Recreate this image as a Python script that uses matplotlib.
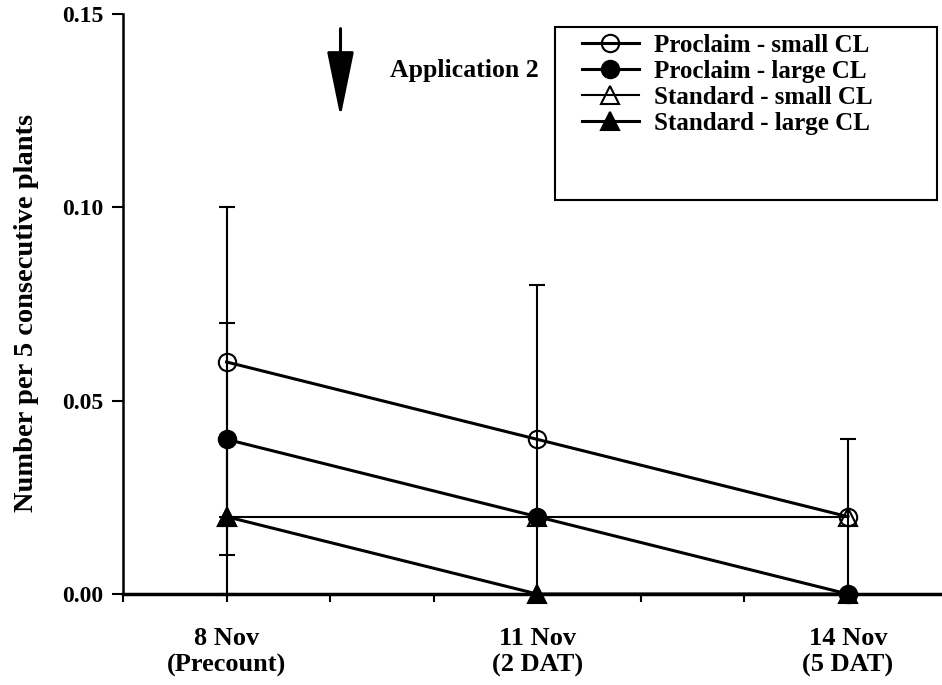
import matplotlib
matplotlib.use("Agg")
import matplotlib.pyplot as plt
from matplotlib.patches import Rectangle
from matplotlib.ticker import FixedLocator, FormatStrFormatter

plt.rcParams['font.family'] = ['Liberation Serif', 'DejaVu Serif']
plt.rcParams['font.weight'] = 'bold'

# ---- data ----
days = [8, 11, 14]
date_labels = ["8 Nov\n(Precount)", "11 Nov\n(2 DAT)", "14 Nov\n(5 DAT)"]
series_names = ["Proclaim - small CL", "Proclaim - large CL",
                "Standard - small CL", "Standard - large CL"]
proclaim_small = [0.06, 0.04, 0.02]
proclaim_small_err = [0.04, 0.04, 0.02]
proclaim_large = [0.04, 0.02, 0.00]
proclaim_large_err = [0.03, 0.0, 0.0]
standard_small = [0.02, 0.02, 0.02]
standard_small_err = [0.0, 0.0, 0.0]
standard_large = [0.02, 0.00, 0.00]
standard_large_err = [0.02, 0.0, 0.0]
y_ticks = [0.00, 0.05, 0.10, 0.15]
application_day = 9.1

fig = plt.figure(figsize=(9.42, 6.85), dpi=100)
ax = fig.add_axes([0.1306, 0.1328, 0.8674, 0.8468])

styles = [
    dict(marker='o', mfc='none', lw=2.2),
    dict(marker='o', mfc='black', lw=2.2),
    dict(marker='^', mfc='none', lw=1.5),
    dict(marker='^', mfc='black', lw=2.2),
]
vals = [proclaim_small, proclaim_large, standard_small, standard_large]
errs = [proclaim_small_err, proclaim_large_err, standard_small_err, standard_large_err]

for v, e in zip(vals, errs):
    xs = [d for d, er in zip(days, e) if er > 0]
    ys = [y for y, er in zip(v, e) if er > 0]
    es = [er for er in e if er > 0]
    if xs:
        ax.errorbar(xs, ys, yerr=es, fmt='none', ecolor='black',
                    elinewidth=1.5, capsize=6, capthick=1.5, zorder=2)

handles = []
for name, v, st in zip(series_names, vals, styles):
    h, = ax.plot(days, v, color='black', marker=st['marker'], markersize=12.5,
                 markerfacecolor=st['mfc'], markeredgecolor='black',
                 markeredgewidth=1.5, lw=st['lw'], label=name, zorder=3,
                 clip_on=False)
    handles.append(h)

ax.set_xlim(7, 14.89)
ax.set_ylim(0, 0.15)
ax.xaxis.set_major_locator(FixedLocator(days))
ax.xaxis.set_minor_locator(FixedLocator([7, 9, 10, 12, 13]))
ax.set_xticklabels(date_labels, fontsize=19, fontweight='bold')
ax.set_yticks(y_ticks)
ax.yaxis.set_major_formatter(FormatStrFormatter('%.2f'))
for lab in ax.get_yticklabels():
    lab.set_fontsize(17)
    lab.set_fontweight('bold')
ax.tick_params(axis='x', which='both', direction='out', length=6, width=1.5, pad=18)
ax.tick_params(axis='y', direction='out', length=8, width=1.5, pad=6)

ax.spines['top'].set_visible(False)
ax.spines['right'].set_visible(False)
ax.spines['left'].set_linewidth(1.8)
ax.spines['bottom'].set_linewidth(2.5)

ax.set_ylabel("Number per 5 consecutive plants", fontsize=20.5, fontweight='bold')
ax.yaxis.set_label_coords(-0.103, 0.485)

# application arrow
ax.annotate('', xy=(application_day, 0.1233), xytext=(application_day, 0.1462),
            arrowprops=dict(arrowstyle='-|>,head_length=2.05,head_width=0.42',
                            lw=2.2, color='black', shrinkA=0, shrinkB=0,
                            mutation_scale=20))
ax.text(9.58, 0.1355, "Application 2", fontsize=18.5, fontweight='bold',
        va='center', ha='left')

# legend box
ax.add_patch(Rectangle((0.529, 0.679), 0.467, 0.299, transform=ax.transAxes,
                       fill=False, edgecolor='black', lw=1.5, zorder=5))
leg = ax.legend(handles=handles, loc='upper left', bbox_to_anchor=(0.549, 0.983),
                frameon=False, handlelength=2.3, handletextpad=0.6,
                labelspacing=0.12, borderaxespad=0, prop={'weight': 'bold', 'size': 18})

fig.savefig("out.png", dpi=100)
